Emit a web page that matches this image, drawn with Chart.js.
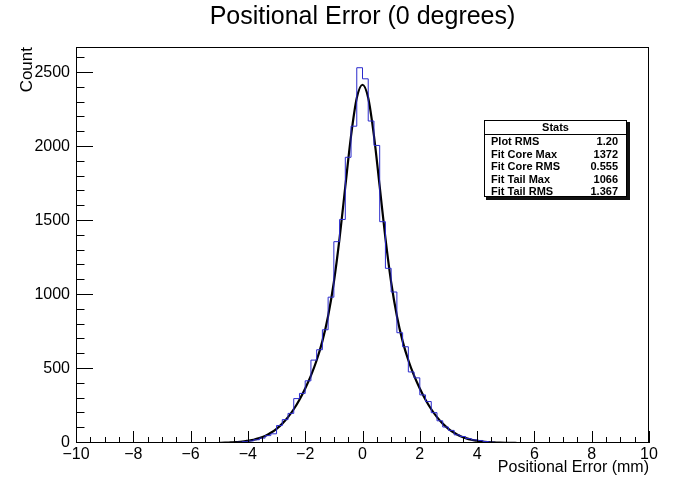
<!DOCTYPE html>
<html>
<head>
<meta charset="utf-8">
<title>Positional Error (0 degrees)</title>
<script src="https://cdn.jsdelivr.net/npm/chart.js@4.4.1/dist/chart.umd.min.js"></script>
<style>
    body { margin: 0; background: #fff; }
    #chartCanvas { display: block; }
</style>
</head>
<body>
<canvas id="chartCanvas" width="675" height="481"></canvas>
<script>
// Datos del histograma (bins de 0.2 mm, desde -4.6 mm)
const binStart = -4.6;
const binWidth = 0.2;
const binCounts = [
    3, 5, 9, 14, 22, 33, 50, 62,
    118, 158, 200, 300, 335, 420, 560, 630,
    765, 985, 1360, 1510, 1930, 2140, 2535,
    2460, 2175, 2010, 1495, 1180,
    1020, 745, 650, 480, 440,
    325, 280, 205, 150, 108,
    85, 55, 44, 30, 21,
    17, 10, 6, 3, 2
];

// Curva del ajuste (cada 0.2 mm desde -5.0)
const fitStart = -5.0;
const fitStep = 0.2;
const fitValues = [
    1, 2, 4, 6, 9, 15, 22, 33, 48, 69, 96, 131, 175, 228, 292, 368, 455, 559, 688, 858,
    1086, 1384, 1733, 2075, 2330, 2420, 2330, 2075, 1733, 1384, 1086,
    858, 688, 559, 455, 368, 292, 228, 175, 131, 96, 69, 48, 33, 22, 15, 9, 6, 4, 2, 1, 1, 0
];

// Caja de estadísticas
const statsLabels = ["Plot RMS", "Fit Core Max", "Fit Core RMS", "Fit Tail Max", "Fit Tail RMS"];
const statsValues = ["1.20", "1372", "0.555", "1066", "1.367"];

// Ejes y etiquetas de los ticks
const xTicks = [-10, -8, -6, -4, -2, 0, 2, 4, 6, 8, 10];
const yTicks = [0, 500, 1000, 1500, 2000, 2500];
const xMin = -10, xMax = 10, xMinor = 0.5;
const yMin = 0, yMax = 2675, yMinor = 100;

const titleText = "Positional Error (0 degrees)";
const font = "'Liberation Sans', Arial, Helvetica, sans-serif";

// Puntos del histograma en los bordes izquierdos de cada bin
const histData = [{ x: xMin, y: 0 }];
binCounts.forEach((c, i) => {
    histData.push({ x: binStart + i * binWidth, y: c });
});
histData.push({ x: binStart + binCounts.length * binWidth, y: 0 });
histData.push({ x: xMax, y: 0 });

const fitData = fitValues.map((v, i) => ({ x: fitStart + i * fitStep, y: v }));

// Marco, ticks hacia dentro (estilo ROOT), título y caja de estadísticas
const marcoPlugin = {
    id: 'marco',
    afterDatasetsDraw(chart) {
        const { ctx, chartArea: a, scales } = chart;
        const sx = scales.x, sy = scales.y;
        ctx.save();
        ctx.strokeStyle = '#000';
        ctx.lineWidth = 1;
        ctx.beginPath();
        const nx = Math.round((xMax - xMin) / xMinor);
        for (let i = 0; i <= nx; i++) {
            const v = xMin + i * xMinor;
            const px = Math.round(sx.getPixelForValue(v)) + 0.5;
            const len = xTicks.includes(v) ? 12 : 6;
            ctx.moveTo(px, a.bottom);
            ctx.lineTo(px, a.bottom - len);
        }
        const ny = Math.floor((yMax - yMin) / yMinor);
        for (let i = 0; i <= ny; i++) {
            const v = yMin + i * yMinor;
            const py = Math.round(sy.getPixelForValue(v)) - 0.5;
            const len = yTicks.includes(v) ? 17 : 8.5;
            ctx.moveTo(a.left, py);
            ctx.lineTo(a.left + len, py);
        }
        ctx.stroke();
        ctx.strokeRect(Math.round(a.left) + 0.5, Math.round(a.top) + 0.5,
            Math.round(a.right - a.left) - 1, Math.round(a.bottom - a.top) - 1);
        ctx.restore();
    },
    afterDraw(chart) {
        const { ctx, chartArea: a } = chart;
        ctx.save();
        // Título centrado sobre el marco
        ctx.fillStyle = '#000';
        ctx.font = "25px " + font;
        ctx.textAlign = 'center';
        ctx.textBaseline = 'middle';
        ctx.fillText(titleText, (a.left + a.right) / 2, 17);

        // Caja "Stats"
        const bx = 484, by = 120, bw = 143, bh = 77;
        ctx.fillStyle = '#111';
        ctx.fillRect(bx + 2, by + 2, bw + 1, bh + 1);
        ctx.fillStyle = '#fff';
        ctx.fillRect(bx, by, bw, bh);
        ctx.strokeStyle = '#000';
        ctx.lineWidth = 1;
        ctx.strokeRect(bx + 0.5, by + 0.5, bw - 1, bh - 1);
        ctx.beginPath();
        ctx.moveTo(bx, by + 14.5);
        ctx.lineTo(bx + bw, by + 14.5);
        ctx.stroke();
        ctx.fillStyle = '#000';
        ctx.font = "bold 11px " + font;
        ctx.textAlign = 'center';
        ctx.fillText("Stats", bx + bw / 2, by + 7.5);
        statsLabels.forEach((label, i) => {
            const yy = by + 22 + i * 12.5;
            ctx.textAlign = 'left';
            ctx.fillText(label, bx + 7, yy);
            ctx.textAlign = 'right';
            ctx.fillText(statsValues[i], bx + bw - 9, yy);
        });
        ctx.restore();
    }
};

const ctx = document.getElementById('chartCanvas').getContext('2d');
const chartInstance = new Chart(ctx, {
    type: 'line',
    data: {
        datasets: [
            {
                label: 'Histograma',
                data: histData,
                stepped: true,
                borderColor: '#2a2acc',
                borderWidth: 1,
                pointRadius: 0,
                fill: false
            },
            {
                label: 'Ajuste',
                data: fitData,
                borderColor: '#000',
                borderWidth: 2.2,
                pointRadius: 0,
                cubicInterpolationMode: 'monotone',
                fill: false
            }
        ]
    },
    options: {
        responsive: false,
        animation: false,
        devicePixelRatio: 1,
        layout: { padding: { left: 0, right: 26, top: 47, bottom: 0 } },
        plugins: {
            legend: { display: false },
            tooltip: { enabled: false },
            title: { display: false }
        },
        scales: {
            x: {
                type: 'linear',
                min: xMin,
                max: xMax,
                grid: { display: false, drawTicks: false },
                border: { display: false },
                ticks: {
                    autoSkip: false,
                    color: '#000',
                    padding: 2,
                    maxRotation: 0,
                    font: { family: font, size: 16 },
                    callback: (v) => String(v).replace('-', '\u2212')
                },
                title: {
                    display: true,
                    text: 'Positional Error (mm)',
                    align: 'end',
                    color: '#000',
                    font: { family: font, size: 16 },
                    padding: { top: 0, bottom: 4 }
                },
                afterBuildTicks: (scale) => {
                    scale.ticks = xTicks.map(v => ({ value: v }));
                },
                afterFit: (scale) => { scale.height = 38; }
            },
            y: {
                min: yMin,
                max: yMax,
                grid: { display: false, drawTicks: false },
                border: { display: false },
                ticks: {
                    autoSkip: false,
                    color: '#000',
                    padding: 6,
                    font: { family: font, size: 16 },
                    callback: (v) => String(v)
                },
                title: {
                    display: true,
                    text: 'Count',
                    align: 'end',
                    color: '#000',
                    font: { family: font, size: 17 },
                    padding: { top: 17, bottom: 0 }
                },
                afterBuildTicks: (scale) => {
                    scale.ticks = yTicks.map(v => ({ value: v }));
                },
                afterFit: (scale) => { scale.width = 76; }
            }
        }
    },
    plugins: [marcoPlugin]
});
</script>
</body>
</html>
